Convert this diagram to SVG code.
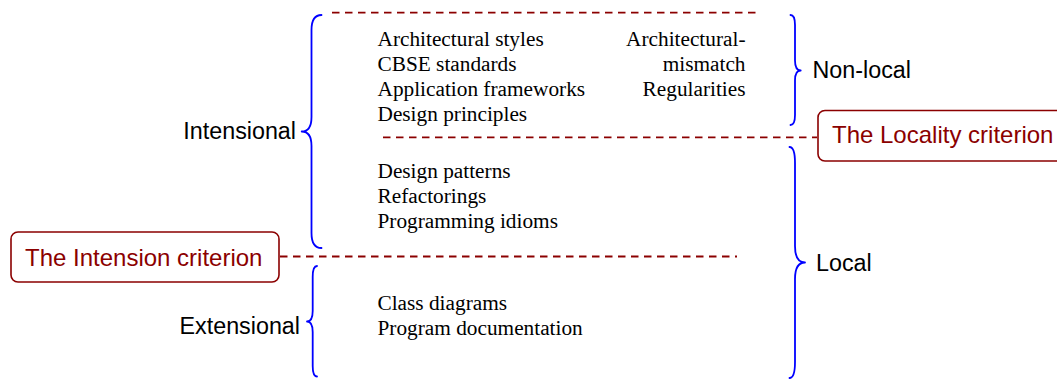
<svg xmlns="http://www.w3.org/2000/svg" width="1057" height="379" viewBox="0 0 1057 379">
<style>
.brace{fill:none;stroke:#0000ff;stroke-width:1.8;stroke-linecap:round;stroke-linejoin:round}
.dash{fill:none;stroke:#8b0000;stroke-width:1.8;stroke-dasharray:7.5 5.5}
.box{fill:#ffffff;stroke:#8b0000;stroke-width:1.6}
.crit{font-family:"Liberation Sans",Arial,sans-serif;font-size:24px;fill:#8b0000}
.lab{font-family:"Liberation Sans",Arial,sans-serif;font-size:23.3px;fill:#000000}
.item{font-family:"Liberation Serif","Times New Roman",serif;font-size:21.3px;fill:#000000}
</style>
<rect width="1057" height="379" fill="#ffffff"/>
<g id="connectors">
<line class="dash" x1="332" y1="12.7" x2="760" y2="12.7"/>
<line class="dash" x1="383" y1="137.3" x2="817" y2="137.3"/>
<line class="dash" x1="280" y1="256.5" x2="737" y2="256.5"/>
</g>
<g id="intensional">
<path class="brace" d="M321.5 15 Q311.5 15 311.5 30 L311.5 117 Q311.5 131.5 301.7 131.5 Q311.5 131.5 311.5 146 L311.5 233 Q311.5 248 321.5 248"/>
<text class="lab" x="296" y="138.5" text-anchor="end">Intensional</text>
</g>
<g id="extensional">
<path class="brace" d="M317 266 Q312.7 266 312.7 277 L312.7 311 Q312.7 321.5 307 321.5 Q312.7 321.5 312.7 332 L312.7 366 Q312.7 376.5 317 376.5"/>
<text class="lab" x="300" y="334" text-anchor="end">Extensional</text>
</g>
<g id="nonlocal">
<path class="brace" d="M790.5 15 Q795 15 795 25 L795 60.5 Q795 70.5 800.7 70.5 Q795 70.5 795 80.5 L795 115 Q795 125 790.5 125"/>
<text class="lab" x="812.5" y="78.3">Non-local</text>
</g>
<g id="local">
<path class="brace" d="M789.5 147 Q795 147 795 163 L795 246 Q795 262.5 805 262.5 Q795 262.5 795 279 L795 362 Q795 378 789.5 378"/>
<text class="lab" x="816" y="271">Local</text>
</g>
<g id="nonlocal-intensional-items">
<text class="item" x="377.5" y="45.5">Architectural styles</text>
<text class="item" x="377.5" y="70.5">CBSE standards</text>
<text class="item" x="377.5" y="95.5">Application frameworks</text>
<text class="item" x="377.5" y="120.5">Design principles</text>
<text class="item" x="745.5" y="45.5" text-anchor="end">Architectural-</text>
<text class="item" x="745.5" y="70.5" text-anchor="end">mismatch</text>
<text class="item" x="745.5" y="95.5" text-anchor="end">Regularities</text>
</g>
<g id="local-intensional-items">
<text class="item" x="377.5" y="177.5">Design patterns</text>
<text class="item" x="377.5" y="202.5">Refactorings</text>
<text class="item" x="377.5" y="227.5">Programming idioms</text>
</g>
<g id="extensional-items">
<text class="item" x="377.5" y="309.5">Class diagrams</text>
<text class="item" x="377.5" y="334.5">Program documentation</text>
</g>
<g id="intension-criterion">
<rect class="box" x="11" y="232" width="268" height="50" rx="7"/>
<text class="crit" x="25" y="266">The Intension criterion</text>
</g>
<g id="locality-criterion">
<rect class="box" x="818" y="110.5" width="260" height="50.5" rx="7"/>
<text class="crit" x="832" y="143.3">The Locality criterion</text>
</g>
</svg>
